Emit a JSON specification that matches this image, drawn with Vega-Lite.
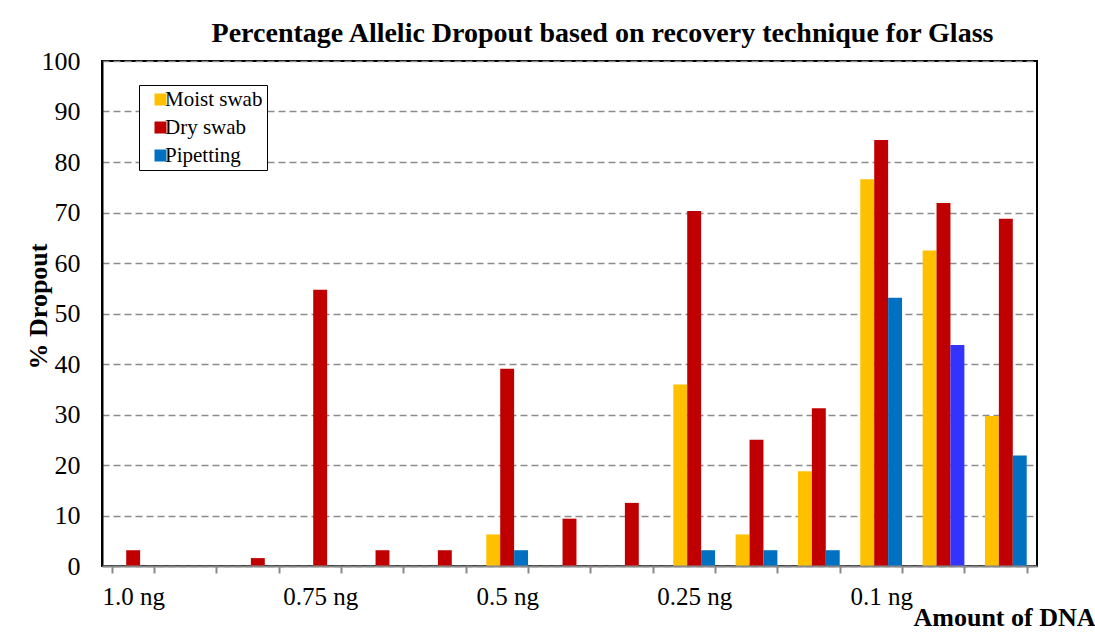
{
  "$schema": "https://vega.github.io/schema/vega-lite/v6.json",
  "width": 935,
  "height": 505,
  "autosize": {"type": "none"},
  "padding": {"left": 102, "top": 61, "right": 58, "bottom": 66},
  "background": "white",
  "title": {
    "text": "Percentage Allelic Dropout based on recovery technique for Glass",
    "font": "Liberation Serif",
    "fontSize": 28,
    "fontWeight": "bold",
    "color": "black",
    "anchor": "middle",
    "frame": "group",
    "dx": 33,
    "dy": 39,
    "offset": 17,
    "baseline": "alphabetic"
  },
  "data": {
    "values": [
      {"slot": 1, "amount": "1.0 ng", "series": "Dry swab", "dropout": 3.125},
      {"slot": 3, "amount": "1.0 ng", "series": "Dry swab", "dropout": 1.5625},
      {"slot": 4, "amount": "0.75 ng", "series": "Dry swab", "dropout": 54.6875},
      {"slot": 5, "amount": "0.75 ng", "series": "Dry swab", "dropout": 3.125},
      {"slot": 6, "amount": "0.75 ng", "series": "Dry swab", "dropout": 3.125},
      {"slot": 7, "amount": "0.5 ng", "series": "Moist swab", "dropout": 6.25},
      {"slot": 7, "amount": "0.5 ng", "series": "Dry swab", "dropout": 39.0625},
      {"slot": 7, "amount": "0.5 ng", "series": "Pipetting", "dropout": 3.125},
      {"slot": 8, "amount": "0.5 ng", "series": "Dry swab", "dropout": 9.375},
      {"slot": 9, "amount": "0.5 ng", "series": "Dry swab", "dropout": 12.5},
      {"slot": 10, "amount": "0.25 ng", "series": "Moist swab", "dropout": 35.9375},
      {"slot": 10, "amount": "0.25 ng", "series": "Dry swab", "dropout": 70.3125},
      {"slot": 10, "amount": "0.25 ng", "series": "Pipetting", "dropout": 3.125},
      {"slot": 11, "amount": "0.25 ng", "series": "Moist swab", "dropout": 6.25},
      {"slot": 11, "amount": "0.25 ng", "series": "Dry swab", "dropout": 25},
      {"slot": 11, "amount": "0.25 ng", "series": "Pipetting", "dropout": 3.125},
      {"slot": 12, "amount": "0.25 ng", "series": "Moist swab", "dropout": 18.75},
      {"slot": 12, "amount": "0.25 ng", "series": "Dry swab", "dropout": 31.25},
      {"slot": 12, "amount": "0.25 ng", "series": "Pipetting", "dropout": 3.125},
      {"slot": 13, "amount": "0.1 ng", "series": "Moist swab", "dropout": 76.5625},
      {"slot": 13, "amount": "0.1 ng", "series": "Dry swab", "dropout": 84.375},
      {"slot": 13, "amount": "0.1 ng", "series": "Pipetting", "dropout": 53.125},
      {"slot": 14, "amount": "0.1 ng", "series": "Moist swab", "dropout": 62.5},
      {"slot": 14, "amount": "0.1 ng", "series": "Dry swab", "dropout": 71.875},
      {"slot": 14, "amount": "0.1 ng", "series": "Pipetting", "dropout": 43.75},
      {"slot": 15, "amount": "0.1 ng", "series": "Moist swab", "dropout": 29.6875},
      {"slot": 15, "amount": "0.1 ng", "series": "Dry swab", "dropout": 68.75},
      {"slot": 15, "amount": "0.1 ng", "series": "Pipetting", "dropout": 21.875}
    ]
  },
  "mark": {"type": "bar"},
  "encoding": {
    "x": {
      "field": "slot",
      "type": "ordinal",
      "scale": {"domain": [1,2,3,4,5,6,7,8,9,10,11,12,13,14,15], "paddingInner": 0.33, "paddingOuter": 0.165},
      "axis": {
        "title": "Amount of DNA",
        "titleFont": "Liberation Serif",
        "titleFontSize": 26,
        "titleFontWeight": "bold",
        "titleColor": "black",
        "titleX": 811,
        "titleY": 59,
        "titleAlign": "left",
        "titleBaseline": "alphabetic",
        "labelAngle": 0,
        "labelFont": "Liberation Serif",
        "labelFontSize": 25,
        "labelColor": "black",
        "labelOverlap": false,
        "labelExpr": "datum.value == 1 ? '1.0 ng' : datum.value == 4 ? '0.75 ng' : datum.value == 7 ? '0.5 ng' : datum.value == 10 ? '0.25 ng' : datum.value == 13 ? '0.1 ng' : ''",
        "labelPadding": 11,
        "tickBand": "extent",
        "tickSize": 7,
        "tickColor": "#888888",
        "tickWidth": 2,
        "domainColor": "#888888",
        "domainWidth": 2,
        "zindex": 1
      }
    },
    "xOffset": {
      "field": "series",
      "type": "nominal",
      "scale": {"domain": ["Moist swab", "Dry swab", "Pipetting"], "paddingInner": 0, "paddingOuter": 0}
    },
    "y": {
      "field": "dropout",
      "type": "quantitative",
      "scale": {"domain": [0, 100], "nice": false},
      "axis": {
        "title": "% Dropout",
        "titleFont": "Liberation Serif",
        "titleFontSize": 26,
        "titleFontWeight": "bold",
        "titleColor": "black",
        "titleX": -64,
        "titleY": 245,
        "titleAlign": "center",
        "titleBaseline": "middle",
        "titleAngle": 270,
        "values": [0, 10, 20, 30, 40, 50, 60, 70, 80, 90, 100],
        "ticks": false,
        "labelPadding": 22,
        "labelFont": "Liberation Serif",
        "labelFontSize": 26,
        "labelColor": "black",
        "domainColor": "black",
        "domainWidth": 2,
        "grid": true,
        "gridDash": [7, 4],
        "gridColor": "#8c8c8c",
        "gridWidth": 1.5
      }
    },
    "color": {
      "field": "series",
      "type": "nominal",
      "condition": {"test": "datum.slot === 14 && datum.series === 'Pipetting'", "value": "#3333FF"},
      "scale": {"domain": ["Moist swab", "Dry swab", "Pipetting"], "range": ["#FFC000", "#C00000", "#0070C0"]},
      "legend": {
        "orient": "none",
        "legendX": 37,
        "legendY": 24,
        "title": null,
        "strokeColor": "black",
        "fillColor": "white",
        "padding": 4,
        "symbolType": "square",
        "symbolSize": 144,
        "symbolStrokeWidth": 0,
        "symbolOffset": 7,
        "labelFont": "Liberation Serif",
        "labelFontSize": 21,
        "labelColor": "black",
        "labelOffset": -6,
        "rowPadding": 6
      }
    }
  },
  "config": {
    "view": {"stroke": "black", "strokeWidth": 2},
    "legend": {"labelFont": "Liberation Serif", "labelFontSize": 21}
  }
}
